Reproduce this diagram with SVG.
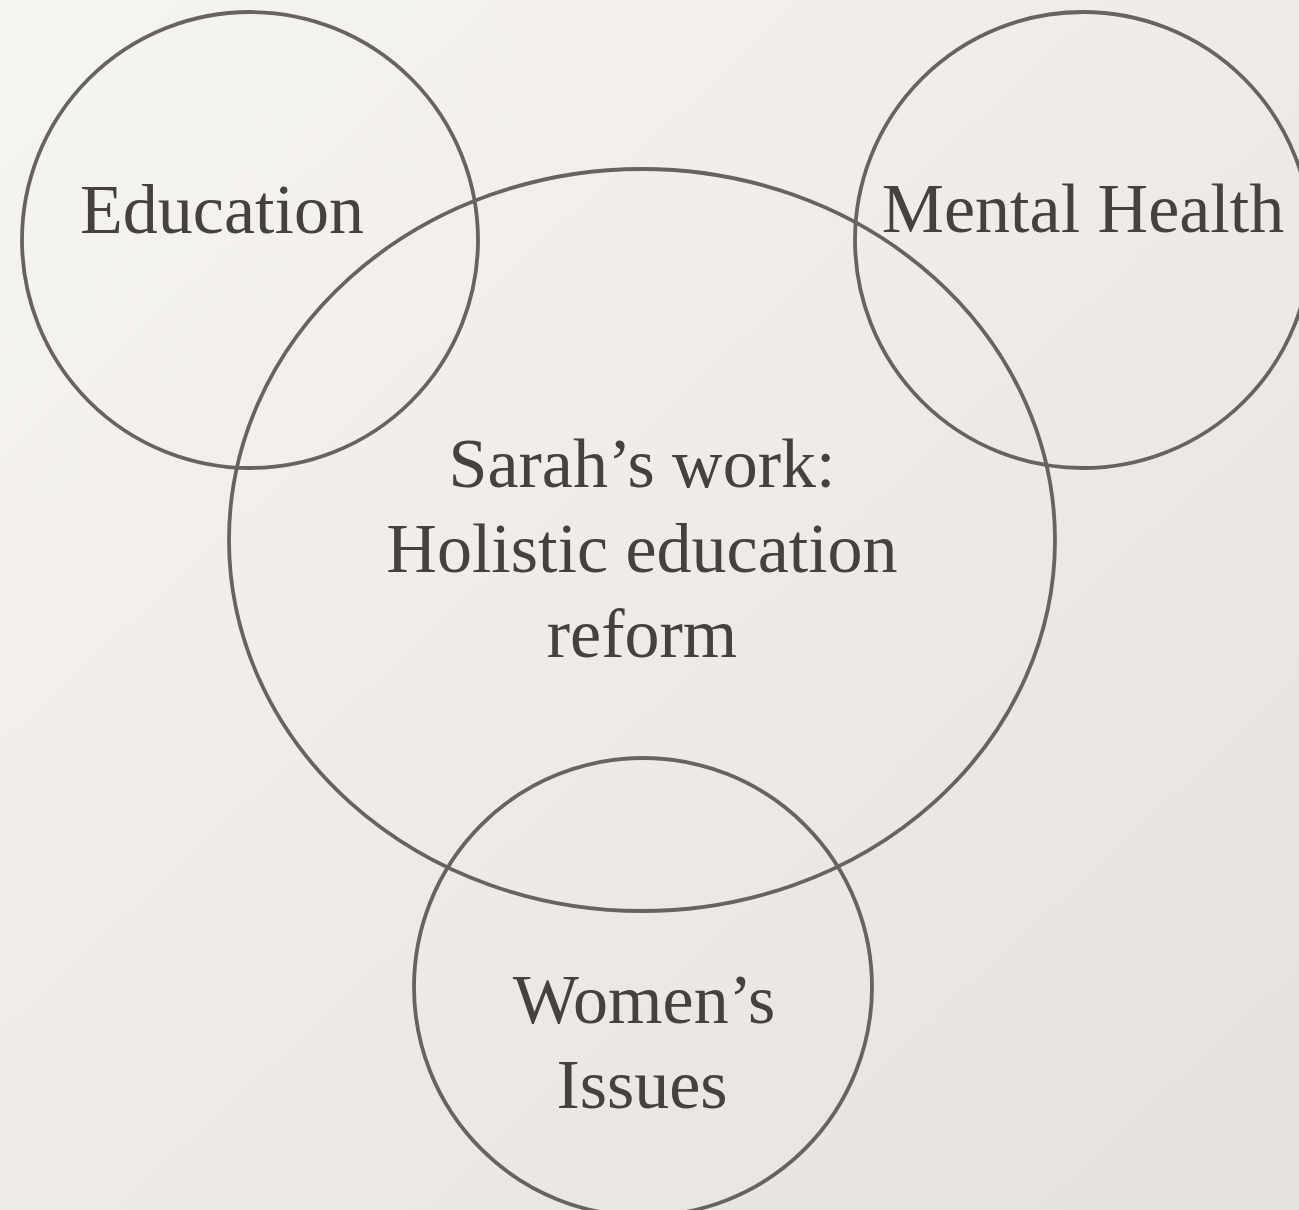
<svg xmlns="http://www.w3.org/2000/svg" width="1299" height="1210" viewBox="0 0 1299 1210">
<defs>
<linearGradient id="bg" x1="0" y1="0" x2="1" y2="1">
<stop offset="0" stop-color="#f7f5f0"/>
<stop offset="1" stop-color="#e5e2dd"/>
</linearGradient>
<style>
.c{fill:none;stroke:#67635e;stroke-width:3.8}
.t{font-family:"Liberation Serif","DejaVu Serif",serif;font-size:70px;fill:#45423e;text-anchor:middle}
</style>
</defs>
<rect width="1299" height="1210" fill="url(#bg)"/>
<g id="education"><circle class="c" cx="250" cy="240" r="228"/><text class="t" x="222" y="233">Education</text></g>
<g id="mental-health"><circle class="c" cx="1083" cy="240" r="228"/><text class="t" x="1083" y="232">Mental Health</text></g>
<g id="sarahs-work"><ellipse class="c" cx="642" cy="540" rx="413" ry="371"/><text class="t" x="642" y="487">Sarah’s work:</text><text class="t" x="642" y="572">Holistic education</text><text class="t" x="642" y="657">reform</text></g>
<g id="womens-issues"><circle class="c" cx="643" cy="987" r="229"/><text class="t" x="644" y="1023">Women’s</text><text class="t" x="642" y="1108">Issues</text></g>
<g id="connectors"></g>
</svg>
